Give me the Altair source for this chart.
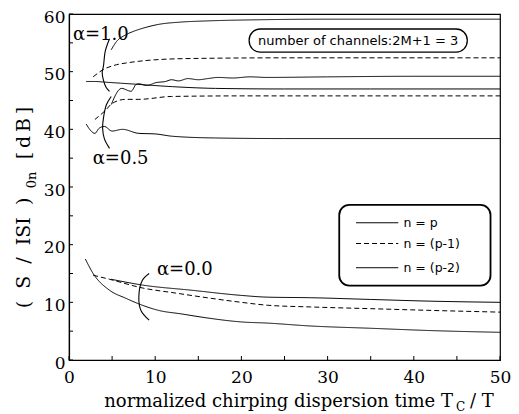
import altair as alt
import pandas as pd

# ---------------- data ----------------
N_LABELS = ["n = p", "n = (p-1)", "n = (p-2)"]

# alpha = 1.0
a10_p_x = [2.0, 3.0, 4.0, 6.0, 8.0, 12.0, 17.0, 25.0, 35.0, 50.0]
a10_p_y = [48.3, 48.3, 48.2, 48.0, 47.8, 47.4, 47.1, 47.0, 47.0, 47.0]
a10_p1_x = [2.8, 3.9, 5.5, 6.6, 8.1, 10.4, 15.0, 25.0, 50.0]
a10_p1_y = [49.1, 50.3, 51.2, 51.5, 51.8, 52.1, 52.3, 52.4, 52.4]
a10_p2_x = [4.9, 5.5, 6.6, 7.5, 8.5, 10.4, 13.0, 16.0, 22.0, 30.0, 50.0]
a10_p2_y = [53.8, 55.2, 56.4, 57.0, 57.5, 58.2, 58.6, 58.8, 59.0, 59.1, 59.1]

# alpha = 0.5
a05_p_x = [2.0, 2.4, 3.0, 3.5, 4.1, 5.0, 6.2, 8.1, 10.0, 12.0, 17.0, 25.0, 50.0]
a05_p_y = [40.9, 40.0, 39.3, 40.2, 40.5, 39.7, 40.0, 39.3, 39.2, 38.8, 38.5, 38.4, 38.4]
a05_p1_x = [3.0, 4.3, 5.0, 6.6, 8.1, 11.9, 20.0, 50.0]
a05_p1_y = [41.7, 43.4, 44.5, 45.2, 45.2, 45.7, 45.8, 45.8]
a05_p2_x = [4.9, 6.1, 7.2, 7.8, 8.1, 9.0, 10.1, 11.2, 11.9, 12.7, 13.8, 15.0,
            16.1, 17.3, 19.0, 21.0, 23.0, 30.0, 40.0, 50.0]
a05_p2_y = [44.3, 47.1, 46.6, 47.8, 47.9, 47.6, 48.1, 48.3, 48.6, 48.4, 48.8, 48.6,
            48.8, 49.0, 48.9, 49.1, 49.0, 49.1, 49.2, 49.2]

# alpha = 0.0
a00_p_x = [1.9, 2.8, 4.7, 6.6, 8.5, 10.4, 13.0, 16.0, 20.0, 23.0, 28.0, 35.0, 42.0, 50.0]
a00_p_y = [17.5, 15.0, 12.1, 10.7, 9.5, 8.6, 8.0, 7.3, 6.6, 6.4, 5.9, 5.5, 5.1, 4.8]
a00_p1_x = [2.8, 4.7, 8.5, 12.4, 16.0, 20.0, 23.0, 28.0, 35.0, 42.0, 50.0]
a00_p1_y = [14.7, 14.0, 12.5, 11.6, 10.8, 10.0, 9.5, 9.2, 8.9, 8.6, 8.3]
a00_p2_x = [4.9, 8.5, 14.2, 20.0, 23.0, 28.0, 35.0, 42.0, 50.0]
a00_p2_y = [14.0, 13.0, 12.1, 11.2, 10.9, 10.8, 10.5, 10.2, 10.0]

SERIES = [
    ("1.0", N_LABELS[0], a10_p_x, a10_p_y),
    ("1.0", N_LABELS[1], a10_p1_x, a10_p1_y),
    ("1.0", N_LABELS[2], a10_p2_x, a10_p2_y),
    ("0.5", N_LABELS[0], a05_p_x, a05_p_y),
    ("0.5", N_LABELS[1], a05_p1_x, a05_p1_y),
    ("0.5", N_LABELS[2], a05_p2_x, a05_p2_y),
    ("0.0", N_LABELS[0], a00_p_x, a00_p_y),
    ("0.0", N_LABELS[1], a00_p1_x, a00_p1_y),
    ("0.0", N_LABELS[2], a00_p2_x, a00_p2_y),
]

# brace annotations (data coordinates)
brace10_x = [4.7, 4.2, 4.0, 3.85, 4.0, 4.3, 4.7]
brace10_y = [55.7, 53.5, 51.0, 49.8, 48.5, 47.3, 46.6]
brace05_x = [4.9, 4.35, 4.0, 3.9, 4.1, 4.7]
brace05_y = [45.7, 44.3, 42.0, 40.2, 38.4, 36.7]
brace00_x = [9.3, 8.5, 8.1, 8.35, 9.3]
brace00_y = [15.0, 13.8, 10.9, 8.6, 6.9]

alpha_text = ["α=1.0", "α=0.5", "α=0.0"]
alpha_text_x = [0.45, 2.75, 10.2]
alpha_text_y = [55.5, 34.0, 14.7]

channel_text = ["number of channels:2M+1 = 3"]
channel_box_x = [20.9]
channel_box_x2 = [46.2]
channel_box_y = [57.4]
channel_box_y2 = [53.4]

# legend box (drawn inside the plot, in data units)
legend_box_x = [31.35]
legend_box_x2 = [48.9]
legend_box_y = [26.9]
legend_box_y2 = [12.9]
legend_row_y = [23.8, 20.2, 16.0]
legend_line_x = [33.3]
legend_line_x2 = [38.2]
legend_text_x = [38.8]

X_TICKS = [0, 10, 20, 30, 40, 50]
Y_TICKS = [0, 10, 20, 30, 40, 50, 60]
X_MINOR = [0, 5, 10, 15, 20, 25, 30, 35, 40, 45, 50]
Y_MINOR = [0, 5, 10, 15, 20, 25, 30, 35, 40, 45, 50, 55, 60]

# ---------------- tables ----------------
rows = []
for alpha, n, xs, ys in SERIES:
    for x, y in zip(xs, ys):
        rows.append({"x": x, "y": y, "alpha": alpha, "n": n, "series": alpha + n})
df = pd.DataFrame(rows)

brows = []
for gid, (bx, by) in enumerate([(brace10_x, brace10_y), (brace05_x, brace05_y), (brace00_x, brace00_y)]):
    for i, (x, y) in enumerate(zip(bx, by)):
        brows.append({"x": x, "y": y, "g": gid, "i": i})
dfb = pd.DataFrame(brows)

dft = pd.DataFrame({"x": alpha_text_x, "y": alpha_text_y, "t": alpha_text})
dfc = pd.DataFrame({"x": channel_box_x, "x2": channel_box_x2, "y": channel_box_y,
                    "y2": channel_box_y2})
dfct = pd.DataFrame({"x": [(a + b) / 2 for a, b in zip(channel_box_x, channel_box_x2)],
                     "y": [(a + b) / 2 for a, b in zip(channel_box_y, channel_box_y2)],
                     "t": channel_text})
dflb = pd.DataFrame({"x": legend_box_x, "x2": legend_box_x2, "y": legend_box_y,
                     "y2": legend_box_y2})
dfll = pd.DataFrame({"x": legend_line_x * 3, "x2": legend_line_x2 * 3,
                     "y": legend_row_y, "n": N_LABELS})
dflt = pd.DataFrame({"x": legend_text_x * 3, "y": legend_row_y, "n": N_LABELS})

SERIF = "DejaVu Serif"
SANS = "DejaVu Sans"
NB = "\u00a0"
PLOT_H = 346

X_ENC = alt.X("x:Q", scale=alt.Scale(domain=[0, 50], nice=False, zero=False),
              axis=alt.Axis(values=X_TICKS, title=None, grid=False, ticks=False,
                            labelFont=SERIF, labelFontSize=17, labelColor="black",
                            labelPadding=9, domainColor="black", domainWidth=1.2,
                            labelFlush=False))
Y_ENC = alt.Y("y:Q", scale=alt.Scale(domain=[0, 60], nice=False, zero=False),
              axis=alt.Axis(values=Y_TICKS, title=None, grid=False, ticks=False,
                            labelFont=SERIF, labelFontSize=17, labelColor="black",
                            labelPadding=4, labelOffset=3, domainColor="black",
                            domainWidth=1.2, labelFlush=False))

DASH = alt.StrokeDash("n:N", scale=alt.Scale(domain=N_LABELS, range=[[1, 0], [5, 3], [1, 0]]),
                      legend=None)
WIDTH = alt.StrokeWidth("n:N", scale=alt.Scale(domain=N_LABELS, range=[1.0, 1.0, 2.3]),
                        legend=None)

lines = alt.Chart(df).mark_line(color="black", interpolate="monotone").encode(
    x=X_ENC, y=Y_ENC, strokeDash=DASH, strokeWidth=WIDTH, detail="series:N",
)

braces = alt.Chart(dfb).mark_line(color="black", strokeWidth=1.1, interpolate="catmull-rom").encode(
    x=X_ENC, y=Y_ENC, detail="g:N", order="i:Q")

alabels = alt.Chart(dft).mark_text(align="left", baseline="alphabetic", font=SERIF,
                                   fontSize=18, color="black").encode(x=X_ENC, y=Y_ENC, text="t:N")

cbox = alt.Chart(dfc).mark_rect(fillOpacity=0, stroke="black", strokeWidth=1.3,
                                cornerRadius=11).encode(x=X_ENC, x2="x2:Q", y=Y_ENC, y2="y2:Q")
ctext = alt.Chart(dfct).mark_text(font=SANS, fontSize=13, color="black", baseline="middle").encode(
    x=X_ENC, y=Y_ENC, text="t:N")

lbox = alt.Chart(dflb).mark_rect(fill="white", stroke="black", strokeWidth=1.8,
                                 cornerRadius=10).encode(x=X_ENC, x2="x2:Q", y=Y_ENC, y2="y2:Q")
llines = alt.Chart(dfll).mark_rule(color="black").encode(
    x=X_ENC, x2="x2:Q", y=Y_ENC, strokeDash=DASH, strokeWidth=WIDTH)
ltext = alt.Chart(dflt).mark_text(align="left", baseline="middle", font=SANS, fontSize=12.5,
                                  color="black").encode(x=X_ENC, y=Y_ENC, text="n:N")

dfxm = pd.DataFrame({"x": X_MINOR})
dfym = pd.DataFrame({"y": Y_MINOR})
xticks = alt.Chart(dfxm).mark_rule(color="black", strokeWidth=1).encode(
    x=X_ENC, y=alt.value(PLOT_H), y2=alt.value(PLOT_H - 4))
yticks = alt.Chart(dfym).mark_rule(color="black", strokeWidth=1).encode(
    y=Y_ENC, x=alt.value(0), x2=alt.value(4))

# axis titles with subscripts
xt_main = alt.Chart(pd.DataFrame({"t": ["normalized chirping dispersion time T"]})).mark_text(
    align="right", baseline="alphabetic", font=SERIF, fontSize=18, color="black").encode(
    text="t:N", x=alt.value(384), y=alt.value(393))
xt_sub = alt.Chart(pd.DataFrame({"t": ["C"]})).mark_text(
    align="left", baseline="alphabetic", font=SERIF, fontSize=12, color="black").encode(
    text="t:N", x=alt.value(387), y=alt.value(397))
xt_end = alt.Chart(pd.DataFrame({"t": ["/ T"]})).mark_text(
    align="left", baseline="alphabetic", font=SERIF, fontSize=18, color="black").encode(
    text="t:N", x=alt.value(401), y=alt.value(393))

yt_main = alt.Chart(pd.DataFrame({"t": ["(" + NB * 2 + "S" + NB * 2 + "/" + NB * 2 + "ISI" + NB * 2 + ")"]})).mark_text(
    align="center", baseline="middle", angle=270, font=SERIF, fontSize=19, color="black").encode(
    text="t:N", x=alt.value(-45), y=alt.value(239))
yt_sub = alt.Chart(pd.DataFrame({"t": ["0n"]})).mark_text(
    align="center", baseline="middle", angle=270, font=SERIF, fontSize=13, color="black").encode(
    text="t:N", x=alt.value(-37), y=alt.value(166))
yt_end = alt.Chart(pd.DataFrame({"t": ["[\u2009d\u2009B\u2009]"]})).mark_text(
    align="center", baseline="middle", angle=270, font=SERIF, fontSize=19, color="black").encode(
    text="t:N", x=alt.value(-45), y=alt.value(119))

chart = alt.layer(
    lines, braces, alabels, cbox, ctext, lbox, llines, ltext, xticks, yticks,
    xt_main, xt_sub, xt_end, yt_main, yt_sub, yt_end
).properties(
    width=431, height=PLOT_H,
    autosize=alt.AutoSizeParams(type="none"),
    padding={"left": 61, "top": 6, "right": 11, "bottom": 54},
).configure_view(stroke="black", strokeWidth=1.2)

chart.save("out.html", embed_options={"renderer": "svg", "actions": False})
